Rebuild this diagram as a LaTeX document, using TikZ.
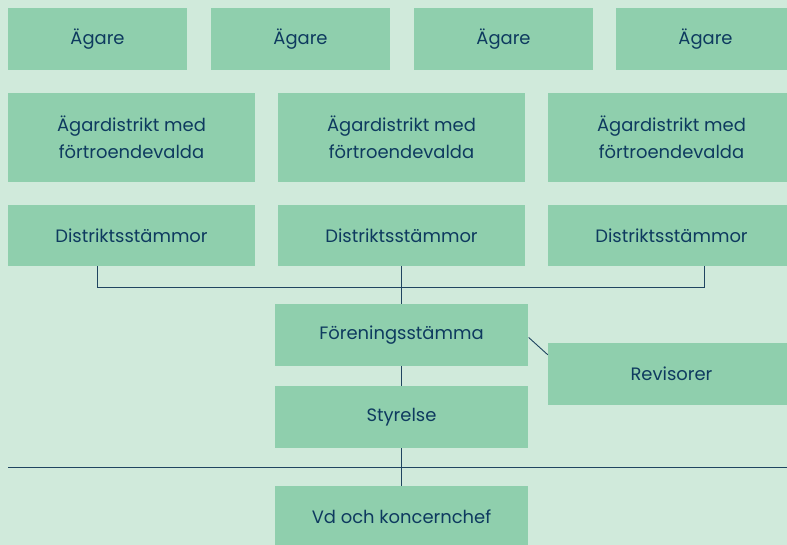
\documentclass[tikz,border=0pt]{standalone}
\usepackage{fontspec}
\setmainfont{Poppins}
\usetikzlibrary{calc}
\definecolor{bgc}{HTML}{D0EADB}
\definecolor{boxc}{HTML}{8FCFAD}
\definecolor{txtc}{HTML}{0E3A5F}
\definecolor{linec}{HTML}{1F4560}
\tikzset{
  box/.style={fill=boxc, draw=none, text=txtc, align=center, inner sep=0pt,
    font=\fontsize{18}{27}\selectfont, minimum height=62bp},
  narrow/.style={box, minimum width=179bp},
  wide/.style={box, minimum width=247bp},
  mid/.style={box, minimum width=253bp},
  conn/.style={draw=linec, line width=1bp}
}
\begin{document}
\begin{tikzpicture}[x=1bp,y=-1bp]
\useasboundingbox (0,0) rectangle (787,545);
\clip (0,0) rectangle (787,545);
\fill[bgc] (0,0) rectangle (787,545);
% row 1
\node[narrow] (a1) at (97.5,39) {Ägare};
\node[narrow] (a2) at (300.5,39) {Ägare};
\node[narrow] (a3) at (503.5,39) {Ägare};
\node[narrow] (a4) at (705.5,39) {Ägare};
% row 2
\node[wide, minimum height=89bp] (d1) at (131.5,137.5) {Ägardistrikt med\\förtroendevalda};
\node[wide, minimum height=89bp] (d2) at (401.5,137.5) {Ägardistrikt med\\förtroendevalda};
\node[wide, minimum height=89bp] (d3) at (671.5,137.5) {Ägardistrikt med\\förtroendevalda};
% row 3
\node[wide, minimum height=61bp] (s1) at (131.5,235.5) {Distriktsstämmor};
\node[wide, minimum height=61bp] (s2) at (401.5,235.5) {Distriktsstämmor};
\node[wide, minimum height=61bp] (s3) at (671.5,235.5) {Distriktsstämmor};
% lower
\node[mid] (f) at (401.5,335) {Föreningsstämma};
\node[mid] (st) at (401.5,417) {Styrelse};
\node[mid] (vd) at (401.5,517) {Vd och koncernchef};
\node[wide] (rev) at (671.5,374) {Revisorer};
% connectors
\coordinate (j1) at (97,287);
\coordinate (j3) at (704,287);
\coordinate (jm) at (401.5,287);
\draw[conn] (s1.south -| j1) -- (j1) -- (j3) -- (s3.south -| j3);
\draw[conn] (s2.south) -- (jm) -- (f.north);
\draw[conn] (f.south) -- (st.north);
\coordinate (hl) at (8,467);
\coordinate (hr) at (787,467);
\draw[conn] (hl) -- (hr);
\draw[conn] (st.south) -- (vd.north);
\draw[conn, line width=0.9bp] ($(f.east)+(0.5,2.5)$) -- ($(rev.north west)+(0,12)$);
\end{tikzpicture}
\end{document}
